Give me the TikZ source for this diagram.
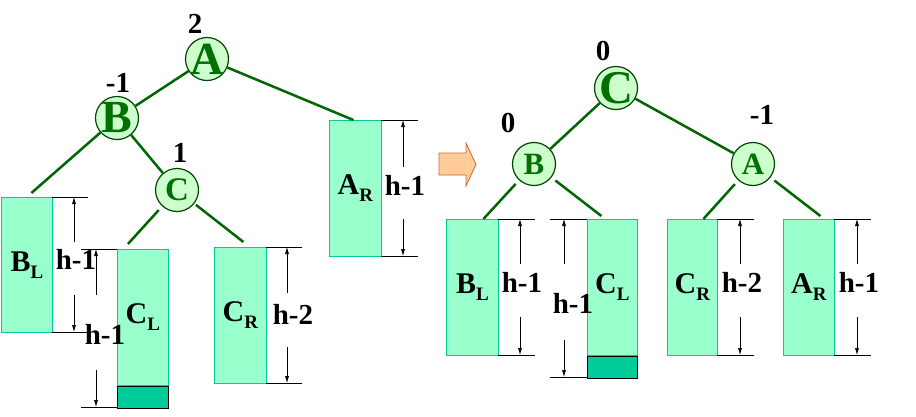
\documentclass[tikz,border=0pt]{standalone}
\usepackage{fontspec}
\setmainfont{Liberation Serif}
\usetikzlibrary{arrows.meta}
\definecolor{nodefill}{HTML}{CCFFCC}
\definecolor{nodeline}{HTML}{004400}
\definecolor{nodetext}{HTML}{007000}
\definecolor{edgecol}{HTML}{006600}
\definecolor{boxfill}{HTML}{99FFCC}
\definecolor{boxline}{HTML}{00CC99}
\definecolor{deepfill}{HTML}{00CC99}
\definecolor{arrowfill}{HTML}{FFCC99}
\definecolor{arrowline}{HTML}{CC6633}
\newcommand\lowtag[1]{\raisebox{-7pt}{\fontsize{19}{19}\selectfont #1}}
\tikzset{avlnode/.style={circle, draw=nodeline, fill=nodefill, line width=1.2pt,
minimum size=43pt, inner sep=-8pt, text=nodetext,
font=\bfseries\fontsize{#1}{#1}\selectfont},
subtree/.style={draw=boxline, fill=boxfill, line width=0.8pt, anchor=north west,
inner sep=0pt, font=\bfseries\fontsize{30}{30}\selectfont}}

\begin{document}
\begin{tikzpicture}[x=1pt, y=-1pt,
    edge/.style={draw=edgecol, line width=2.5pt},
    bal/.style={font=\bfseries\fontsize{29}{29}\selectfont},
    deepbox/.style={draw=black, fill=deepfill, line width=0.8pt, anchor=north west, inner sep=0pt},
    dimline/.style={line width=0.6pt},
    dimarrow/.style={line width=0.6pt, -{Latex[length=7pt,width=4pt]}},
    hlabel/.style={inner sep=0pt, font=\bfseries\fontsize{29}{29}\selectfont}]
\useasboundingbox (0,0) rectangle (916,416);

\node[subtree, minimum width=51pt, minimum height=135pt] (lBL) at (1,197) {B\lowtag{L}};
\node[subtree, minimum width=51pt, minimum height=136pt] (lCL) at (117,249) {C\lowtag{L}};
\node[deepbox, minimum width=51pt, minimum height=22pt] (lCLx) at (lCL.south west) {};
\node[subtree, minimum width=52pt, minimum height=136pt] (lCR) at (214,247) {C\lowtag{R}};
\node[subtree, minimum width=52pt, minimum height=136pt] (lAR) at (329,120) {A\lowtag{R}};

\node[subtree, minimum width=52pt, minimum height=136pt] (rBL) at (446,219) {B\lowtag{L}};
\node[subtree, minimum width=50pt, minimum height=136pt] (rCL) at (587,219) {C\lowtag{L}};
\node[deepbox, minimum width=50pt, minimum height=22pt] (rCLx) at (rCL.south west) {};
\node[subtree, minimum width=50pt, minimum height=136pt] (rCR) at (667,219) {C\lowtag{R}};
\node[subtree, minimum width=51pt, minimum height=136pt] (rAR) at (783,219) {A\lowtag{R}};

\node[avlnode=46] (lA) at (207,59) {A};
\node[avlnode=46] (lB) at (117,118) {B};
\node[avlnode=33] (lC) at (177,190) {C};
\node[avlnode=47] (rC) at (616,88) {C};
\node[avlnode=31] (rB) at (534,164) {B};
\node[avlnode=31] (rA) at (753,164) {A};

\node[bal] (lA-b) at (195,24) {2};
\node[bal] (lB-b) at (118,83) {-1};
\node[bal] (lC-b) at (180,153) {1};
\node[bal] (rC-b) at (603,51) {0};
\node[bal] (rB-b) at (508,123) {0};
\node[bal] (rA-b) at (762,115) {-1};

\draw[edge] (lA) -- (lB);
\draw[edge] (lA) -- ([xshift=-2pt]lAR.north);
\draw[edge] (lB) -- ([xshift=4.5pt,yshift=4pt]lBL.north);
\draw[edge] (lB) -- (lC);
\draw[edge, shorten <=5pt] (lC) -- ([xshift=-15pt,yshift=5pt]lCL.north);
\draw[edge, shorten <=2pt] (lC) -- ([xshift=3pt,yshift=5pt]lCR.north);

\draw[edge] (rC) -- (rB);
\draw[edge] (rC) -- (rA);
\draw[edge, shorten <=5pt] (rB) -- ([xshift=11pt]rBL.north);
\draw[edge, shorten <=5pt] (rB) -- ([xshift=-11pt,yshift=3pt]rCL.north);
\draw[edge, shorten <=5pt] (rA) -- ([xshift=11pt]rCR.north);
\draw[edge, shorten <=5pt] (rA) -- ([xshift=11.5pt,yshift=3pt]rAR.north);

\filldraw[fill=arrowfill, draw=arrowline, line width=0.8pt]
  (439,153) -- (466,153) -- (466,143) -- (476,164.5) -- (466,186) -- (466,175) -- (439,175) -- cycle;

\foreach \n/\xl/\xr/\xa/\yt/\yb/\ga/\gb/\tx/\ty/\lbl in
  {dl1/52/88/74/197/332/242/295/76/259/h-1,
   dl2/81/117/96/249/407/295/370/105/334/h-1,
   dl3/266/302/287/247/383/293/347/293/314/h-2,
   dl4/381/418/403/120/256/167/219/405/185/h-1,
   dr1/498/535/520/219/355/264/317/522/282/h-1,
   dr2/550/587/564/219/377/264/340/573/303/h-1,
   dr3/717/754/740/219/355/264/317/742/282/h-2,
   dr4/834/871/857/219/355/264/317/859/282/h-1}{
  \coordinate (\n-t) at (\xa,\yt);
  \coordinate (\n-b) at (\xa,\yb);
  \coordinate (\n-u) at (\xa,\ga);
  \coordinate (\n-d) at (\xa,\gb);
  \draw[dimline] (\xl,\yt) -- (\xr,\yt) (\xl,\yb) -- (\xr,\yb);
  \draw[dimarrow] (\n-u) -- (\n-t);
  \draw[dimarrow] (\n-d) -- (\n-b);
  \node[hlabel] (\n-h) at (\tx,\ty) {\lbl};
}
\end{tikzpicture}
\end{document}
